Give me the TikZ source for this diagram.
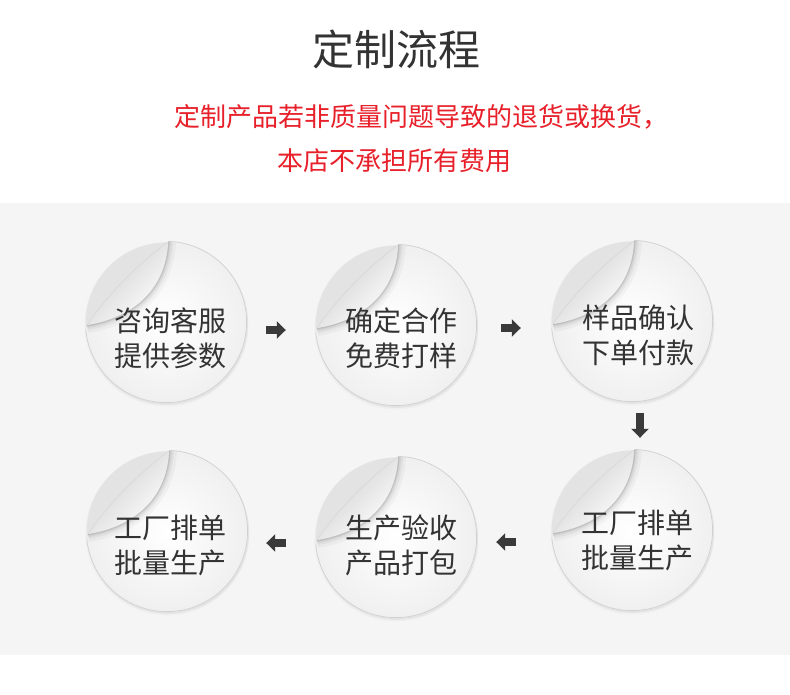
\documentclass[tikz,border=0pt]{standalone}
\usepackage{fontspec}
\setmainfont{Noto Sans CJK SC}
\usepackage{tikz}
\usetikzlibrary{
  arrows.meta,
  positioning,
  calc
}
\definecolor{bandgray}{RGB}{245,245,245}
\definecolor{labelcolor}{RGB}{51,51,51}
\definecolor{noticered}{RGB}{232,32,42}
\definecolor{arrowcolor}{RGB}{58,58,58}
\definecolor{rimcolor}{RGB}{208,208,208}
\tikzset{
titletext/.style={
  font=\fontsize{42}{46}\selectfont,
  text=labelcolor
},
noticetext/.style={
  font=\fontsize{26}{30}\selectfont,
  text=noticered
},
stickerbase/.style={
  circle,
  minimum size=162pt,
  inner sep=0pt
},
stickertext/.style={
  align=center,
  font=\fontsize{28}{35}\selectfont,
  text=labelcolor
},
blockarrow/.style={
  draw=arrowcolor,
  line width=8pt,
  -{Triangle[length=9pt,width=17pt]}
}
}

\begin{document}
\begin{tikzpicture}[x=1pt,y=-1pt]
  \useasboundingbox (0,0) rectangle (790,694);
  \fill[white] (0,0) rectangle (790,694);
  \fill[bandgray] (0,203) rectangle (790,655);

  % heading
  \node[titletext] (title) at (396,49) {定制流程};
  \node[noticetext, anchor=west] (note1) at (171,117) {定制产品若非质量问题导致的退货或换货，};
  \node[noticetext] (note2) at (394,161) {本店不承担所有费用};

  % stickers
  \node[stickerbase] (s1) at (166,322) {};
  \node[stickerbase] (s2) at (396,325) {};
  \node[stickerbase] (s3) at (632,321) {};
  \node[stickerbase] (s4) at (632,530) {};
  \node[stickerbase] (s5) at (396,537) {};
  \node[stickerbase] (s6) at (167,531) {};

  \foreach \n in {s1,s2,s3,s4,s5,s6}{
    \begin{scope}[shift={(\n.center)}]
      \fill[black!6] (0.5,2.5) circle[radius=82pt];
      \fill[black!11] (0.8,1.6) circle[radius=81.2pt];
      \begin{scope}
        \clip (2,-80) .. controls (0,-35) and (-30,-5) .. (-79,3)
          -- (-110,110) -- (110,110) -- (110,-110) -- (2,-110) -- cycle;
        \shade[inner color=white, outer color=black!6] (0,0) circle[radius=81pt];
        \draw[rimcolor, line width=0.7pt] (0,0) circle[radius=80.6pt];
        \foreach \w/\o in {16/0.03,10/0.04,6/0.05,3/0.09}{
          \draw[black, opacity=\o, line width=\w pt]
            (2,-80) .. controls (0,-35) and (-30,-5) .. (-79,3);
        }
      \end{scope}
      % peeled corner
      \shade[top color=black!20, bottom color=white, shading angle=45]
        (2,-80) .. controls (-28,-58) and (-58,-28) .. (-79,3)
        .. controls (-30,-5) and (0,-35) .. (2,-80) -- cycle;
      \draw[black!16, line width=0.5pt]
        (2,-80) .. controls (-28,-58) and (-58,-28) .. (-79,3);
    \end{scope}
  }

  \node[stickertext] (t1) at (170,338) {咨询客服\\提供参数};
  \node[stickertext] (t2) at (401,338) {确定合作\\免费打样};
  \node[stickertext] (t3) at (638,335) {样品确认\\下单付款};
  \node[stickertext] (t4) at (637,540) {工厂排单\\批量生产};
  \node[stickertext] (t5) at (401,545) {生产验收\\产品打包};
  \node[stickertext] (t6) at (170,545) {工厂排单\\批量生产};

  % arrows
  \draw[blockarrow] ([shift={(19,8)}]s1.east) -- ([shift={(-29,5)}]s2.west);
  \draw[blockarrow] ([shift={(24,3)}]s2.east) -- ([shift={(-30,7)}]s3.west);
  \draw[blockarrow] ([shift={(8,11)}]s3.south) -- ([shift={(8,-11)}]s4.north);
  \draw[blockarrow] ([shift={(-35,12)}]s4.west) -- ([shift={(19,5)}]s5.east);
  \draw[blockarrow] ([shift={(-29,6)}]s5.west) -- ([shift={(18,12)}]s6.east);
\end{tikzpicture}
\end{document}
